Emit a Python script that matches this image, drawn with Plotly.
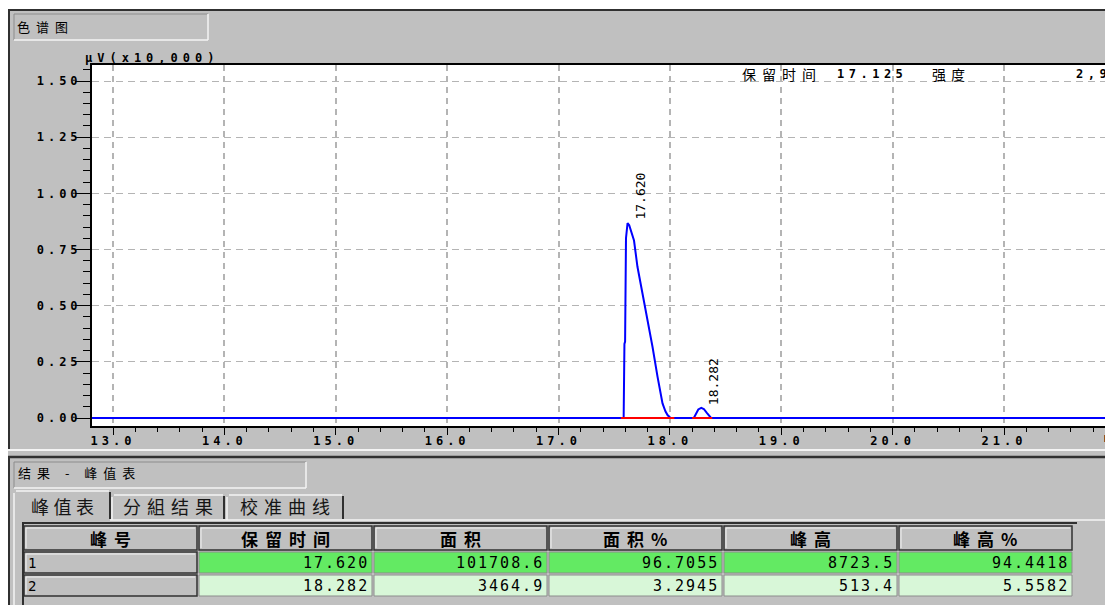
import plotly.graph_objects as go

# page body has an 8px margin: figure is placed at (8, 8) in the window
OX, OY = 8, 8
W, H = 1105, 597

# ---------------- data ----------------
time_min = [12.80, 17.585, 17.592, 17.598, 17.606, 17.612, 17.620, 17.635, 17.655, 17.678,
            17.709, 17.754, 17.799, 17.844, 17.889, 17.934, 17.960, 17.979, 18.000, 18.010,
            18.215, 18.235, 18.255, 18.282, 18.305, 18.330, 18.355, 18.370, 22.00]
signal = [0, 0, 0.33, 0.34, 0.80, 0.855, 0.868, 0.858, 0.83, 0.79,
          0.673, 0.555, 0.451, 0.317, 0.184, 0.065, 0.03, 0.013, 0.003, 0,
          0, 0.022, 0.038, 0.045, 0.040, 0.024, 0.007, 0, 0]

baseline_start = [17.56, 18.20]
baseline_end = [18.04, 18.38]

peak_rt = [17.620, 18.282]
peak_top = [0.868, 0.045]

x_ticks = [13, 14, 15, 16, 17, 18, 19, 20, 21]
y_ticks = [0.0, 0.25, 0.50, 0.75, 1.00, 1.25, 1.50]

y_unit = "μV(x10,000)"
x_unit = "m"
cursor_label = "保留时间"
cursor_rt = 17.125
intensity_label = "强度"
intensity_text = "2,9"

headers = ["峰号", "保留时间", "面积", "面积%", "峰高", "峰高%"]
peak_no = [1, 2]
ret_time = [17.620, 18.282]
area = [101708.6, 3464.9]
area_pct = [96.7055, 3.2945]
height = [8723.5, 513.4]
height_pct = [94.4418, 5.5582]

tabs = ["峰值表", "分組结果", "校准曲线"]

MONO = "DejaVu Sans Mono"
CJK = "Noto Sans CJK SC"


def sp(s, ls):
    return f'<span style="letter-spacing:{ls}px">{s}</span>'


def px(x):
    return (x - OX) / W


def py(y):
    return 1 - (y - OY) / H


shapes = []
annotations = []


def line(x0, y0, x1, y1, color, width=1):
    shapes.append(dict(type="line", xref="paper", yref="paper",
                       x0=px(x0), y0=py(y0), x1=px(x1), y1=py(y1),
                       line=dict(color=color, width=width)))


def rect(x0, y0, x1, y1, fill, color=None, width=0):
    shapes.append(dict(type="rect", xref="paper", yref="paper",
                       x0=px(x0), y0=py(y0), x1=px(x1), y1=py(y1),
                       fillcolor=fill, line=dict(color=color or fill, width=width)))


def text(x, y, s, size, family, xanchor="left", color="black", ls=None,
         bold=False, weight=None):
    t = sp(s, ls) if ls else s
    if bold:
        t = "<b>" + t + "</b>"
    f = dict(family=family, size=size, color=color)
    if weight:
        f["weight"] = weight
    annotations.append(dict(xref="paper", yref="paper", x=px(x), y=py(y), text=t,
                            showarrow=False, xanchor=xanchor, yanchor="middle",
                            font=f))


# ---------------- figure ----------------
fig = go.Figure()

fig.add_trace(go.Scatter(x=time_min, y=signal, mode="lines",
                         line=dict(color="#0000ff", width=2), hoverinfo="skip"))
bx, by = [], []
for s, e in zip(baseline_start, baseline_end):
    bx += [s, e, None]
    by += [0, 0, None]
fig.add_trace(go.Scatter(x=bx, y=by, mode="lines",
                         line=dict(color="#ff0000", width=2), hoverinfo="skip"))

# white strip above the window frame
rect(0, 0, 1113, 9, "white")

# top panel frame
line(7, 10, 1113, 10, "#303030", 2)
line(9, 10, 9, 449, "#303030", 2)
line(7, 450, 1113, 450, "#f4f4f4", 2)
line(7, 457, 1113, 457, "#303030", 2.5)
line(9, 457, 9, 605, "#303030", 2)

# title boxes
for (x0, y0, x1, y1) in [(14, 14, 208, 40), (14, 462, 306, 488)]:
    line(x0, y0, x1, y0, "#8c8c8c", 1)
    line(x0, y0, x0, y1, "#8c8c8c", 1)
    line(x0, y1, x1, y1, "#f4f4f4", 1.5)
    line(x1, y0, x1, y1, "#f4f4f4", 1.5)

text(15, 26, "色谱图", 13, CJK, ls=6)
text(16, 472, "结果 - 峰值表", 13, CJK, ls=6)

# tabs
tab_geo = [(14, 491, 110), (112, 495, 224), (227, 495, 343)]
line(110, 520, 1113, 520, "#f4f4f4", 1.5)
line(14, 520, 14, 605, "#f4f4f4", 1.5)
for i, (lab, (x0, y0, x1)) in enumerate(zip(tabs, tab_geo)):
    line(x0, y0 + 2, x0, 520, "#f4f4f4", 1.5)
    line(x0 + 2, y0, x1 - 1, y0, "#f4f4f4", 1.5)
    line(x1, y0 + 1, x1, 519, "#303030", 2)
    text((x0 + x1) / 2 + 3, 506, lab, 18, CJK, xanchor="center",
         color="#151515", ls=4.5 if i == 0 else 6)
rect(15, 519, 109, 522, "#c0c0c0")

# table frame
line(22, 523, 1077, 523, "#303030", 2)
line(23, 523, 23, 605, "#303030", 2)

col_x0, col_w, cell_w = 24, 175, 173
hdr_y0, hdr_y1 = 526, 550
row_y0, row_h, cell_h = 552, 23, 21
row_fill = ["#63ea63", "#d8f7d8"]


def bevel(x0, y0, x1, y1):
    rect(x0, y0, x1, y1, "#c0c0c0", "#303030", 1.5)
    line(x0 + 2, y0 + 2, x1 - 2, y0 + 2, "#f4f4f4", 1)
    line(x0 + 2, y0 + 2, x0 + 2, y1 - 2, "#f4f4f4", 1)


for j, h in enumerate(headers):
    x0 = col_x0 + j * col_w
    x1 = x0 + cell_w
    bevel(x0, hdr_y0, x1, hdr_y1)
    text((x0 + x1) / 2 + 3, (hdr_y0 + hdr_y1) / 2, h, 17, CJK, xanchor="center",
         ls=7, bold=True)

cols = [
    [f"{v:.3f}" for v in ret_time],
    [f"{v:.1f}" for v in area],
    [f"{v:.4f}" for v in area_pct],
    [f"{v:.1f}" for v in height],
    [f"{v:.4f}" for v in height_pct],
]
for i, n in enumerate(peak_no):
    y0 = row_y0 + i * row_h
    y1 = y0 + cell_h
    bevel(col_x0, y0, col_x0 + cell_w, y1)
    text(col_x0 + 2, (y0 + y1) / 2, str(n), 14, MONO)
    for j, c in enumerate(cols):
        x0 = col_x0 + (j + 1) * col_w
        x1 = x0 + cell_w
        rect(x0, y0, x1, y1, row_fill[i], "#8c8c8c", 1)
        text(x1 - 1, (y0 + y1) / 2, c[i], 15, MONO, xanchor="right", ls=2)

# chart texts
text(83, 58, y_unit, 12, MONO, ls=5, weight="bold")
text(740, 74, cursor_label, 14, CJK, ls=6)
text(835, 74, f"{cursor_rt:.3f}", 12, MONO, ls=4.5, weight="bold")
text(930, 74, intensity_label, 14, CJK, ls=5)
text(1113, 74, intensity_text, 12, MONO, xanchor="right", ls=4.5, weight="bold")
text(1102, 438, x_unit, 12, MONO, weight="bold")

for rt, top in zip(peak_rt, peak_top):
    annotations.append(dict(xref="x", yref="y", x=rt, y=top, text=f"{rt:.3f}",
                            showarrow=False, textangle=-90, xanchor="left",
                            yanchor="bottom", xshift=3, yshift=1,
                            font=dict(family=MONO, size=13, color="black")))

x0v = 13 - 21 / 111.375
x1v = 13 + 1000 / 111.375
fig.update_layout(
    width=W, height=H, autosize=False,
    margin=dict(l=0, r=0, t=0, b=0),
    paper_bgcolor="#c0c0c0", plot_bgcolor="white",
    showlegend=False,
    shapes=shapes, annotations=annotations,
    xaxis=dict(domain=[px(92), 1], range=[x0v, x1v],
               tickmode="array", tickvals=x_ticks,
               ticktext=[sp(f"{v:.1f}", 4) for v in x_ticks],
               ticks="outside", ticklen=7, tickwidth=1, tickcolor="black",
               ticklabelstandoff=-4,
               tickfont=dict(family=MONO, size=12, color="black", weight="bold"),
               showline=True, linecolor="black", linewidth=2, mirror=True,
               showgrid=True, gridcolor="#b4b4b4", griddash="6px,5px", gridwidth=1.5,
               zeroline=False,
               minor=dict(tickmode="linear", tick0=13, dtick=0.2, ticks="outside",
                          ticklen=4, tickcolor="black", showgrid=False)),
    yaxis=dict(domain=[py(426), py(65)],
               range=[-8 / 224.67, 353 / 224.67],
               tickmode="array", tickvals=y_ticks,
               ticktext=[sp(f"{v:.2f}", 4) for v in y_ticks],
               ticks="outside", ticklen=15, tickwidth=1, tickcolor="black",
               ticklabelstandoff=-9,
               tickfont=dict(family=MONO, size=12, color="black", weight="bold"),
               showline=True, linecolor="black", linewidth=2,
               showgrid=True, gridcolor="#b4b4b4", griddash="7px,5px", gridwidth=1,
               zeroline=False,
               minor=dict(tickmode="linear", tick0=0, dtick=0.05, ticks="outside",
                          ticklen=7, tickcolor="black", showgrid=False)),
)

fig.write_html("out.html", config={"displayModeBar": False})
